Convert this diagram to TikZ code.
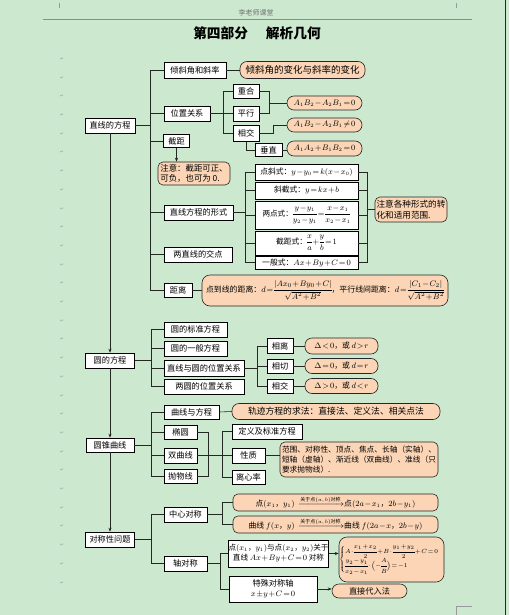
\documentclass[tikz,border=0pt]{standalone}
\usepackage{fontspec}
\usepackage{amsmath}
\newfontfamily\cjk{Noto Sans CJK SC}
\newfontfamily\dejavu{DejaVu Sans}
\usetikzlibrary{arrows.meta}
\definecolor{bgc}{RGB}{204,232,207}
\definecolor{orf}{RGB}{251,213,181}
\definecolor{lnc}{RGB}{35,40,35}
\newcommand\tightmath{\medmuskip=1.2mu\thickmuskip=2mu\thinmuskip=1.5mu\nulldelimiterspace=0pt}
\tikzset{
 base/.style={inner sep=0pt, font=\cjk\fontsize{8.2}{10}\selectfont\tightmath, line width=0.6pt},
 wbox/.style={base, draw=black, fill=white},
 obox/.style={base, draw=black!85, fill=orf, rounded corners=5pt},
 pill/.style={obox, rounded corners=7pt},
 sz/.style 2 args={minimum width=#1pt, minimum height=#2pt},
 fs/.style 2 args={font=\cjk\fontsize{#1}{#2}\selectfont\tightmath},
 conn/.style={draw=lnc, line width=0.6pt},
 arr/.style={conn, -{Stealth[length=4pt,width=3.2pt]}},
 pmark/.style={font=\dejavu\fontsize{4.5}{5}\selectfont, text=black!40, inner sep=0pt},
}
\begin{document}
\begin{tikzpicture}[x=1pt,y=-1pt]
\fill[bgc] (0,0) rectangle (509,615);
\useasboundingbox (0,0) rectangle (509,615);
% page decorations
\node[font=\cjk\fontsize{7}{8}\selectfont, text=black!55] (hd) at (256,12.5) {李老师课堂};
\draw[black!45, line width=0.5pt] (43,19) -- (472,19);
\draw[black!40, line width=0.4pt] (59,3) -- (59,8) (456,3) -- (456,8);
\draw[black!40, line width=0.4pt] (472,606) -- (456,606) -- (456,615);
\draw[black!85, line width=1pt] (505,0) -- (505,615);
\node[font=\cjk\bfseries\fontsize{13.7}{15}\selectfont] (title) at (257,33) {第四部分\hspace{1.3em}解析几何};
\foreach \k in {0,...,28} \node[pmark] (mk\k) at (62,{59+18.7*\k}) {↵};
\coordinate (b1) at (150,0);
\coordinate (b2) at (223,0);
\coordinate (b3) at (269,0);
\coordinate (b4) at (273,0);
\coordinate (b5) at (245,0);
\coordinate (b6) at (367,0);
\coordinate (b7) at (151,0);
\coordinate (b8) at (257,0);
\coordinate (b9) at (208,0);
\coordinate (b10) at (222,0);
\coordinate (b11) at (220,0);
% ---------- section 1
\node[wbox,sz={50}{15}] (zx) at (110,125.5) {直线的方程};
\node[wbox,sz={62}{16}] (qx) at (195,70) {倾斜角和斜率};
\node[pill,sz={125}{17},fs={9.5}{11}] (qo) at (302.5,70) {倾斜角的变化与斜率的变化};
\node[wbox,sz={46}{15}] (wz) at (187,113.5) {位置关系};
\node[wbox,sz={26}{14}] (ch) at (246,91) {重合};
\node[wbox,sz={26}{15}] (px) at (246,113.5) {平行};
\node[wbox,sz={26}{16}] (xj) at (246,133.5) {相交};
\node[wbox,sz={27}{13}] (cz) at (268.5,150) {垂直};
\node[pill,sz={75}{14},fs={7.8}{9}] (o1) at (324.5,103) {$A_1B_2-A_2B_1=0$};
\node[pill,sz={75}{14},fs={7.8}{9}] (o2) at (324.5,125) {$A_1B_2-A_2B_1\neq0$};
\node[pill,sz={75}{15},fs={7.8}{9}] (o3) at (324.5,148.5) {$A_1A_2+B_1B_2=0$};
\node[wbox,sz={26}{13}] (jj) at (176.5,141) {截距};
\node[obox,sz={72}{23},align=left,fs={8.4}{10}] (n1) at (194,173.5) {注意：截距可正、\\可负，也可为 0.};
\node[wbox,sz={69}{15}] (xs) at (198.5,212.5) {直线方程的形式};
\node[wbox,sz={68}{15}] (jd) at (198,254.5) {两直线的交点};
\node[wbox,sz={28}{14}] (jl) at (178,290.5) {距离};
\node[wbox,sz={103}{16},fs={7.8}{9}] (f1) at (306.5,172) {点斜式：$y-y_0=k(x-x_0)$};
\node[wbox,sz={103}{17},fs={7.8}{9}] (f2) at (306.5,190.5) {斜截式：$y=kx+b$};
\node[wbox,sz={103}{28},fs={7.6}{9}] (f3) at (306.5,215) {两点式：$\dfrac{y-y_1}{y_2-y_1}=\dfrac{x-x_1}{x_2-x_1}$};
\node[wbox,sz={103}{24},fs={7.8}{9}] (f4) at (306.5,243) {截距式：$\dfrac{x}{a}+\dfrac{y}{b}=1$};
\node[wbox,sz={103}{13},fs={7.8}{9}] (f5) at (306.5,262.5) {一般式：$Ax+By+C=0$};
\node[obox,sz={72}{25},align=left,fs={8.6}{10.5}] (n2) at (411,209.5) {注意各种形式的转\\化和适用范围.};
\node[obox,sz={246}{31},rounded corners=8pt,fs={7.9}{9}] (dist) at (325,290.5) {点到线的距离：$d=\dfrac{|Ax_0+By_0+C|}{\sqrt{A^2+B^2}}$，平行线间距离：$d=\dfrac{|C_1-C_2|}{\sqrt{A^2+B^2}}$};
% ---------- section 2
\node[wbox,sz={49}{15}] (yf) at (110,360.5) {圆的方程};
\node[wbox,sz={63}{15}] (cb1) at (195.5,329.5) {圆的标准方程};
\node[wbox,sz={63}{15}] (cb2) at (195.5,348.5) {圆的一般方程};
\node[wbox,sz={80}{16}] (cb3) at (204,368) {直线与圆的位置关系};
\node[wbox,sz={80}{15}] (cb4) at (204,386.5) {两圆的位置关系};
\node[wbox,sz={26}{15}] (r1) at (280,346) {相离};
\node[wbox,sz={26}{14}] (r2) at (280,366) {相切};
\node[wbox,sz={26}{14}] (r3) at (280,386) {相交};
\node[pill,sz={73}{16},fs={7.8}{9}] (s1) at (341.5,346) {$\Delta<0$，或 $d>r$};
\node[pill,sz={73}{15},fs={7.8}{9}] (s2) at (341.5,366) {$\Delta=0$，或 $d=r$};
\node[pill,sz={73}{15},fs={7.8}{9}] (s3) at (341.5,386) {$\Delta>0$，或 $d<r$};
% ---------- section 3
\node[wbox,sz={48}{14}] (yz) at (110,445) {圆锥曲线};
\node[wbox,sz={55}{14}] (c1) at (191.5,412) {曲线与方程};
\node[wbox,sz={33}{14}] (c2) at (180.5,432) {椭圆};
\node[wbox,sz={33}{15}] (c3) at (180.5,455.5) {双曲线};
\node[wbox,sz={33}{14}] (c4) at (180.5,476) {抛物线};
\node[pill,sz={208}{16},fs={8.8}{10}] (co) at (336,411.5) {轨迹方程的求法：直接法、定义法、相关点法};
\node[wbox,sz={70}{15}] (d1) at (267,431.5) {定义及标准方程};
\node[wbox,sz={33}{15}] (d2) at (248.5,455.5) {性质};
\node[wbox,sz={33}{14}] (d3) at (248.5,477) {离心率};
\node[obox,sz={158}{35},align=left,fs={7.7}{10}] (dn) at (359,459.5) {范围、对称性、顶点、焦点、长轴（实轴）、\\短轴（虚轴）、渐近线（双曲线）、准线（只\\要求抛物线）.};
% ---------- section 4
\node[wbox,sz={49}{15}] (dc) at (110,539.5) {对称性问题};
\node[wbox,sz={43}{15}] (e1) at (185.5,514.5) {中心对称};
\node[wbox,sz={43}{15}] (e2) at (185.5,563.5) {轴对称};
\node[obox,sz={205}{17},fs={7.8}{9}] (g1) at (335.5,502.5) {点$(x_1$，$y_1)$\ \ $\xrightarrow{\text{\fontsize{5}{5}\selectfont 关于点$(a,b)$对称}}$点$(2a-x_1$，$2b-y_1)$};
\node[obox,sz={205}{17},fs={7.8}{9}] (g2) at (335.5,524.5) {曲线 $f(x$，$y)$\ \ $\xrightarrow{\text{\fontsize{5}{5}\selectfont 关于点$(a,b)$对称}}$曲线 $f(2a-x$，$2b-y)$};
\node[wbox,sz={99}{27},align=center,fs={7.6}{10}] (h1) at (278.5,553.5) {点$(x_1$，$y_1)$与点$(x_2$，$y_2)$关于\\直线 $Ax+By+C=0$ 对称};
\node[wbox,sz={88}{26},align=center,fs={8.2}{10.5}] (h2) at (273,589) {特殊对称轴\\$x\pm y+C=0$};
\node[obox,sz={105}{45},rounded corners=8pt,fs={5.6}{6.5}] (k1) at (391.5,559.5) {$\begin{cases} A\cdot\dfrac{x_1+x_2}{2}+B\cdot\dfrac{y_1+y_2}{2}+C=0\\[3pt] \dfrac{y_2-y_1}{x_2-x_1}\cdot\Bigl(-\dfrac{A}{B}\Bigr)=-1\end{cases}$};
\node[pill,sz={75}{14}] (k2) at (369.5,591) {直接代入法};
% ---------- trunk
\draw[arr] (zx.south) -- (yf.north);
\draw[arr] (yf.south) -- (yz.north);
\draw[arr] (yz.south) -- (dc.north);
% ---------- section 1 connectors
\draw[conn] (zx.east) -- (zx.east -| b1);
\draw[conn] (qx.west) -| (jl.west -| b1) -- (jl.west);
\foreach \n in {wz,jj,xs,jd} \draw[conn] (\n.west) -- (\n.west -| b1);
\draw[conn] (qx.east) -- (qo.west);
\draw[conn] (wz.east) -- (px.west);
\draw[conn] (ch.west) -| (xj.west -| b2) -- (xj.west);
\draw[conn] (ch.east) -| (px.east -| b3) -- (px.east);
\draw[conn] (o1.west) -- (o1.west -| b3);
\draw[conn] (xj.east) -| (o2.west -| b4) -- (o2.west);
\draw[conn] (xj.south) |- (cz.west);
\draw[conn] (cz.east) -- (cz.east -| o3.west);
\draw[arr] (jj.south) -- (jj.south |- n1.north);
\draw[conn] (xs.east) -- (xs.east -| b5);
\draw[conn] (f1.west) -| (f5.west -| b5) -- (f5.west);
\foreach \n in {f2,f3,f4} \draw[conn] (\n.west) -- (\n.west -| b5);
\draw[conn] (f1.east) -| (f5.east -| b6) -- (f5.east);
\foreach \n in {f2,f3,f4} \draw[conn] (\n.east) -- (\n.east -| b6);
\draw[conn] (n2.west -| b6) -- (n2.west);
\draw[conn] (jl.east) -- (dist.west);
% ---------- section 2 connectors
\draw[conn] (yf.east) -- (yf.east -| b7);
\draw[conn] (cb1.west) -| (cb4.west -| b7) -- (cb4.west);
\foreach \n in {cb2,cb3} \draw[conn] (\n.west) -- (\n.west -| b7);
\draw[conn] (cb3.east) -- (cb3.east -| b8);
\draw[conn] (r1.west) -| (r3.west -| b8) -- (r3.west);
\draw[conn] (r2.west) -- (r2.west -| b8);
\draw[conn] (r1.east) -- (s1.west);
\draw[conn] (r2.east) -- (s2.west);
\draw[conn] (r3.east) -- (s3.west);
% ---------- section 3 connectors
\draw[conn] (yz.east) -- (yz.east -| b7);
\draw[conn] (c1.west) -| (c4.west -| b7) -- (c4.west);
\foreach \n in {c2,c3} \draw[conn] (\n.west) -- (\n.west -| b7);
\draw[conn] (c1.east) -- (co.west);
\draw[conn] (c2.east) -| (c4.east -| b9) -- (c4.east);
\draw[conn] (c3.east) -- (d2.west);
\draw[conn] (d1.west) -| (d3.west -| b10) -- (d3.west);
\draw[conn] (d2.east) -- (d2.east -| dn.west);
% ---------- section 4 connectors
\draw[conn] (dc.east) -- (dc.east -| b7);
\draw[conn] (e1.west) -| (e2.west -| b7) -- (e2.west);
\draw[conn] (e1.east) -- (e1.east -| b10);
\draw[conn] (g1.west) -| (g2.west -| b10) -- (g2.west);
\draw[conn] (e2.east) -- (e2.east -| b11);
\draw[conn] (h1.west) -| (h2.west -| b11) -- (h2.west);
\draw[arr] (h1.east) -- (h1.east -| k1.west);
\draw[arr] (h2.east) -- (h2.east -| k2.west);
\end{tikzpicture}
\end{document}
